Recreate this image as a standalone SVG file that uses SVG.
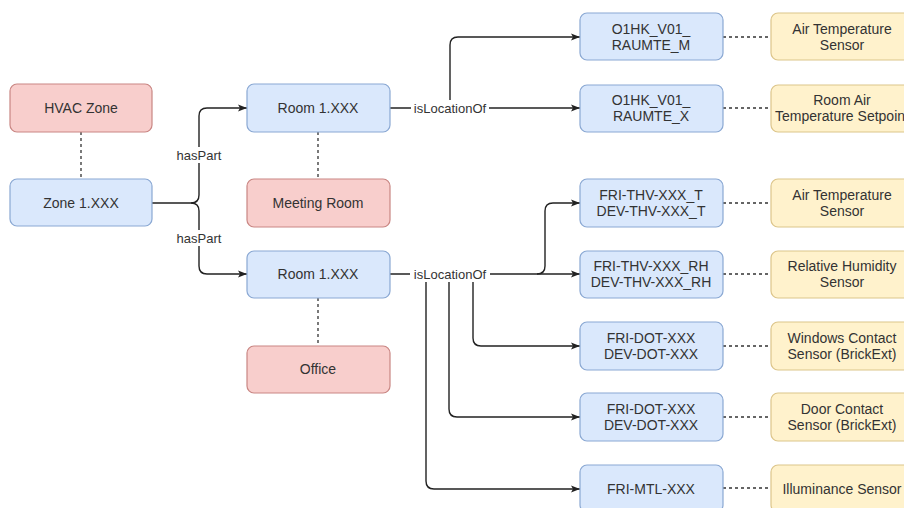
<svg xmlns="http://www.w3.org/2000/svg" width="904" height="508" viewBox="0 0 904 508">
<style>
.b{fill:#dae8fc;stroke:#8aa8d3;stroke-width:1.2}
.r{fill:#f8cecc;stroke:#c98683;stroke-width:1.2}
.y{fill:#fff2cc;stroke:#dcc58a;stroke-width:1.2}
text{font-family:"Liberation Sans",Arial,sans-serif;fill:#333;text-anchor:middle}
.t{font-size:14px}
.l{font-size:13px}
.e{fill:none;stroke:#222;stroke-width:1.4}
.d{fill:none;stroke:#333;stroke-width:1.3;stroke-dasharray:3 3}
.lb{fill:#fff}
</style>
<defs>
<marker id="a" markerWidth="10" markerHeight="8" refX="9" refY="4" orient="auto" markerUnits="userSpaceOnUse">
<path d="M0,0.5 L9,4 L0,7.5 L2,4 Z" fill="#222"/>
</marker>
</defs>
<g id="connectors">
<path class="d" d="M81,132 V179"/>
<path class="d" d="M318,132 V179"/>
<path class="d" d="M318,298 V346"/>
<path class="d" d="M723,37 H771 M723,108 H771 M723,203 H771 M723,274 H771 M723,346 H771 M723,417 H771 M723,488 H771"/>
<path class="e" d="M152,203 H191 Q199,203 199,195 V116 Q199,108 207,108 H247" marker-end="url(#a)"/>
<path class="e" d="M191,203 Q199,203 199,211 V266 Q199,274 207,274 H247" marker-end="url(#a)"/>
<rect class="lb" x="175" y="147" width="48" height="16"/>
<text class="l" x="199" y="160">hasPart</text>
<rect class="lb" x="175" y="230" width="48" height="16"/>
<text class="l" x="199" y="243">hasPart</text>
<path class="e" d="M390,108 H580" marker-end="url(#a)"/>
<path class="e" d="M450,108 V45 Q450,37 458,37 H580" marker-end="url(#a)"/>
<rect class="lb" x="411" y="100" width="78" height="16"/>
<text class="l" x="450" y="113">isLocationOf</text>
<path class="e" d="M390,274 H580" marker-end="url(#a)"/>
<path class="e" d="M537,274 Q545,274 545,266 V211 Q545,203 553,203 H580" marker-end="url(#a)"/>
<path class="e" d="M426,274 V481 Q426,489 434,489 H580" marker-end="url(#a)"/>
<path class="e" d="M449,274 V409 Q449,417 457,417 H580" marker-end="url(#a)"/>
<path class="e" d="M473,274 V338 Q473,346 481,346 H580" marker-end="url(#a)"/>
<rect class="lb" x="410" y="266" width="80" height="16"/>
<text class="l" x="450" y="279">isLocationOf</text>
</g>
<g id="hvac-zone"><rect class="r" x="10" y="84" width="142" height="48" rx="7"/><text class="t" x="81" y="113">HVAC Zone</text></g>
<g id="zone"><rect class="b" x="10" y="179" width="142" height="47" rx="7"/><text class="t" x="81" y="208">Zone 1.XXX</text></g>
<g id="room1"><rect class="b" x="247" y="84" width="143" height="48" rx="7"/><text class="t" x="318" y="113">Room 1.XXX</text></g>
<g id="meeting-room"><rect class="r" x="247" y="179" width="143" height="48" rx="7"/><text class="t" x="318" y="208">Meeting Room</text></g>
<g id="room2"><rect class="b" x="247" y="251" width="143" height="47" rx="7"/><text class="t" x="318" y="279">Room 1.XXX</text></g>
<g id="office"><rect class="r" x="247" y="346" width="143" height="47" rx="7"/><text class="t" x="318" y="374">Office</text></g>
<g id="o1hk-m"><rect class="b" x="580" y="13" width="143" height="47" rx="7"/><text class="t" x="651" y="34">O1HK_V01_</text><text class="t" x="651" y="50">RAUMTE_M</text></g>
<g id="o1hk-x"><rect class="b" x="580" y="85" width="143" height="47" rx="7"/><text class="t" x="651" y="105">O1HK_V01_</text><text class="t" x="651" y="121">RAUMTE_X</text></g>
<g id="thv-t"><rect class="b" x="580" y="179" width="143" height="48" rx="7"/><text class="t" x="651" y="200">FRI-THV-XXX_T</text><text class="t" x="651" y="216">DEV-THV-XXX_T</text></g>
<g id="thv-rh"><rect class="b" x="580" y="251" width="143" height="47" rx="7"/><text class="t" x="651" y="271">FRI-THV-XXX_RH</text><text class="t" x="651" y="287">DEV-THV-XXX_RH</text></g>
<g id="dot1"><rect class="b" x="580" y="322" width="143" height="48" rx="7"/><text class="t" x="651" y="343">FRI-DOT-XXX</text><text class="t" x="651" y="359">DEV-DOT-XXX</text></g>
<g id="dot2"><rect class="b" x="580" y="393" width="143" height="48" rx="7"/><text class="t" x="651" y="414">FRI-DOT-XXX</text><text class="t" x="651" y="430">DEV-DOT-XXX</text></g>
<g id="mtl"><rect class="b" x="580" y="465" width="143" height="47" rx="7"/><text class="t" x="651" y="494">FRI-MTL-XXX</text></g>
<g id="s1"><rect class="y" x="771" y="13" width="142" height="47" rx="7"/><text class="t" x="842" y="34">Air Temperature</text><text class="t" x="842" y="50">Sensor</text></g>
<g id="s2"><rect class="y" x="771" y="85" width="142" height="47" rx="7"/><text class="t" x="842" y="105">Room Air</text><text class="t" x="842" y="121">Temperature Setpoint</text></g>
<g id="s3"><rect class="y" x="771" y="179" width="142" height="48" rx="7"/><text class="t" x="842" y="200">Air Temperature</text><text class="t" x="842" y="216">Sensor</text></g>
<g id="s4"><rect class="y" x="771" y="251" width="142" height="47" rx="7"/><text class="t" x="842" y="271">Relative Humidity</text><text class="t" x="842" y="287">Sensor</text></g>
<g id="s5"><rect class="y" x="771" y="322" width="142" height="48" rx="7"/><text class="t" x="842" y="343">Windows Contact</text><text class="t" x="842" y="359">Sensor (BrickExt)</text></g>
<g id="s6"><rect class="y" x="771" y="393" width="142" height="48" rx="7"/><text class="t" x="842" y="414">Door Contact</text><text class="t" x="842" y="430">Sensor (BrickExt)</text></g>
<g id="s7"><rect class="y" x="771" y="465" width="142" height="47" rx="7"/><text class="t" x="842" y="494">Illuminance Sensor</text></g>
</svg>
